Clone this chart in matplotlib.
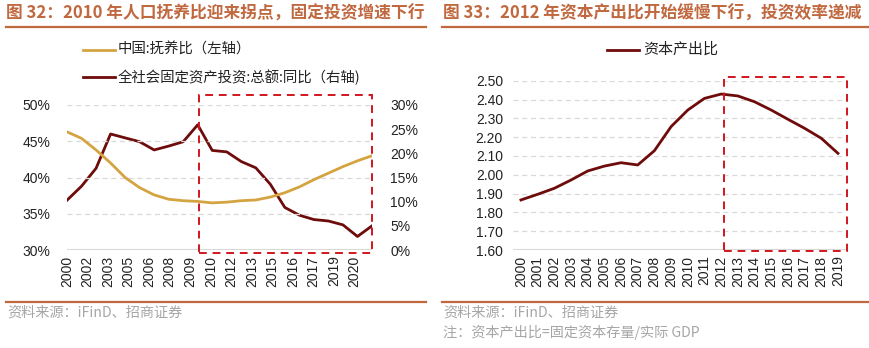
import numpy as np
import matplotlib
matplotlib.use("Agg")
import matplotlib.pyplot as plt
from matplotlib.lines import Line2D
from matplotlib.patches import Rectangle
from matplotlib.ticker import FuncFormatter

plt.rcParams['font.family'] = ['Liberation Sans', 'Noto Sans CJK SC', 'DejaVu Sans']
CJK = ['Noto Sans CJK SC', 'Liberation Sans', 'DejaVu Sans']

# ---------------- data ----------------
years_left = list(range(2000, 2022))
dependency_ratio = [46.3, 45.4, 43.8, 42.0, 40.0, 38.6, 37.6, 37.0, 36.8, 36.7, 36.5,
                    36.6, 36.8, 36.9, 37.3, 37.9, 38.7, 39.7, 40.6, 41.5, 42.3, 43.0]
fai_yoy = [10.3, 13.2, 16.9, 24.0, 23.2, 22.4, 20.7, 21.5, 22.4, 25.9, 20.6,
           20.3, 18.3, 17.0, 13.6, 8.8, 7.2, 6.3, 6.0, 5.2, 2.8, 5.0]
left_tick_labels = ['2000', '2002', '2003', '2005', '2006', '2008', '2009', '2010',
                    '2012', '2013', '2015', '2016', '2017', '2019', '2020']

years_right = [str(y) for y in range(2000, 2020)]
capital_output = [1.866, 1.896, 1.928, 1.972, 2.020, 2.046, 2.064, 2.052, 2.128, 2.256,
                  2.344, 2.406, 2.429, 2.419, 2.388, 2.344, 2.295, 2.247, 2.194, 2.114]

title_left = '图 32：2010 年人口抚养比迎来拐点，固定投资增速下行'
title_right = '图 33：2012 年资本产出比开始缓慢下行，投资效率递减'
legend_left = ['中国:抚养比（左轴）', '全社会固定资产投资:总额:同比（右轴)']
legend_right = '资本产出比'
source_text = '资料来源：iFinD、招商证券'
note_text = '注：资本产出比=固定资本存量/实际 GDP'

# ---------------- style ----------------
c_gold = '#D4A441'
c_dark = '#6E0B0B'
c_red = '#D0161E'
c_title = '#C0683F'
c_grid = '#D9D9D9'
c_foot = '#A6A6A6'

W, H = 870, 348
fig = plt.figure(figsize=(W / 100, H / 100), dpi=100)
fig.patch.set_facecolor('white')


def fx(px):
    return px / W


def fy(py):
    return 1 - py / H


# ---------------- left chart ----------------
axL = fig.add_axes([fx(67), fy(250), fx(372) - fx(67), fy(105) - fy(250)])
axR2 = axL.twinx()
axL.plot(years_left, dependency_ratio, color=c_gold, lw=2.0, zorder=3)
axR2.plot(years_left, fai_yoy, color=c_dark, lw=2.0, zorder=3)
axL.set_xlim(2000, 2021)
axL.set_ylim(30, 50)
axR2.set_ylim(0, 30)
axL.set_yticks(np.arange(30, 51, 5))
axR2.set_yticks(np.arange(0, 31, 5))
axL.yaxis.set_major_formatter(FuncFormatter(lambda v, p: f'{v:.0f}%'))
axR2.yaxis.set_major_formatter(FuncFormatter(lambda v, p: f'{v:.0f}%'))
tick_pos = np.linspace(2000, 2019.8, len(left_tick_labels))
axL.set_xticks(tick_pos)
axL.set_xticklabels(left_tick_labels, rotation=90, fontsize=9.5)
for a in (axL, axR2):
    for s in a.spines.values():
        s.set_visible(False)
    a.tick_params(length=0, labelsize=10, colors='#222222')
axL.tick_params(axis='y', pad=12)
axR2.tick_params(axis='y', pad=13)
axL.tick_params(axis='x', pad=4)
for v in np.arange(35, 51, 5):
    axL.axhline(v, color=c_grid, lw=0.9, ls=(0, (4, 3)), zorder=1)
axL.axhline(30, color=c_grid, lw=2.2, zorder=2)
axL.set_zorder(axR2.get_zorder() + 1)
axL.patch.set_visible(False)

# red dashed highlight box (left)
rectL = Rectangle((fx(199), fy(253)), fx(372) - fx(199), fy(95) - fy(253),
                  transform=fig.transFigure, fill=False, ec=c_red, lw=1.4,
                  ls=(0, (4, 3)), zorder=10)
fig.patches.append(rectL)

# left legend
for i, (lab, col) in enumerate(zip(legend_left, [c_gold, c_dark])):
    yy = fy(50 + 27 * i)
    fig.add_artist(Line2D([fx(83), fx(115)], [yy, yy], color=col, lw=2.0,
                          transform=fig.transFigure))
    fig.text(fx(118), yy, lab, fontsize=10.4, va='center', ha='left',
             family=CJK, color='#222222')

# ---------------- right chart ----------------
axC = fig.add_axes([fx(512.6), fy(250), fx(846.3) - fx(512.6), fy(80.7) - fy(250)])
xr = np.arange(len(years_right))
axC.plot(xr, capital_output, color=c_dark, lw=2.0, zorder=3)
axC.set_xlim(-0.5, len(years_right) - 0.5)
axC.set_ylim(1.6, 2.5)
axC.set_yticks(np.round(np.arange(1.6, 2.51, 0.1), 2))
axC.yaxis.set_major_formatter(FuncFormatter(lambda v, p: f'{v:.2f}'))
axC.set_xticks(xr)
axC.set_xticklabels(years_right, rotation=90, fontsize=9.5)
for s in axC.spines.values():
    s.set_visible(False)
axC.tick_params(length=0, labelsize=10, colors='#222222')
axC.tick_params(axis='y', pad=7)
axC.tick_params(axis='x', pad=4)
for v in np.arange(1.7, 2.51, 0.1):
    axC.axhline(v, color=c_grid, lw=0.9, ls=(0, (4, 3)), zorder=1)
axC.axhline(1.6, color=c_grid, lw=2.2, zorder=2)

rectR = Rectangle((fx(724.3), fy(251.3)), fx(846.7) - fx(724.3), fy(76.7) - fy(251.3),
                  transform=fig.transFigure, fill=False, ec=c_red, lw=1.4,
                  ls=(0, (4, 3)), zorder=10)
fig.patches.append(rectR)

yy = fy(50)
fig.add_artist(Line2D([fx(607), fx(639)], [yy, yy], color=c_dark, lw=2.0,
                      transform=fig.transFigure))
fig.text(fx(643), yy, legend_right, fontsize=10.8, va='center', ha='left',
         family=CJK, color='#222222')

# ---------------- titles & footers ----------------
fig.text(fx(6), fy(14), title_left, fontsize=12.05, fontweight='bold', color=c_title,
         va='center', ha='left', family=CJK)
fig.text(fx(443), fy(14), title_right, fontsize=12.05, fontweight='bold', color=c_title,
         va='center', ha='left', family=CJK)
for x0, x1 in [(6, 426), (442, 868)]:
    fig.add_artist(Line2D([fx(x0), fx(x1)], [fy(27), fy(27)], color=c_title, lw=1.6,
                          transform=fig.transFigure))
    fig.add_artist(Line2D([fx(x0), fx(x1)], [fy(302), fy(302)], color=c_title, lw=1.6,
                          transform=fig.transFigure))

fig.text(fx(7), fy(313), source_text, fontsize=10.2, color=c_foot, va='center',
         ha='left', family=CJK)
fig.text(fx(443), fy(313), source_text, fontsize=10.2, color=c_foot, va='center',
         ha='left', family=CJK)
fig.text(fx(443), fy(332), note_text, fontsize=10.2, color=c_foot, va='center',
         ha='left', family=CJK)

fig.savefig('out.png', dpi=100, facecolor='white')
